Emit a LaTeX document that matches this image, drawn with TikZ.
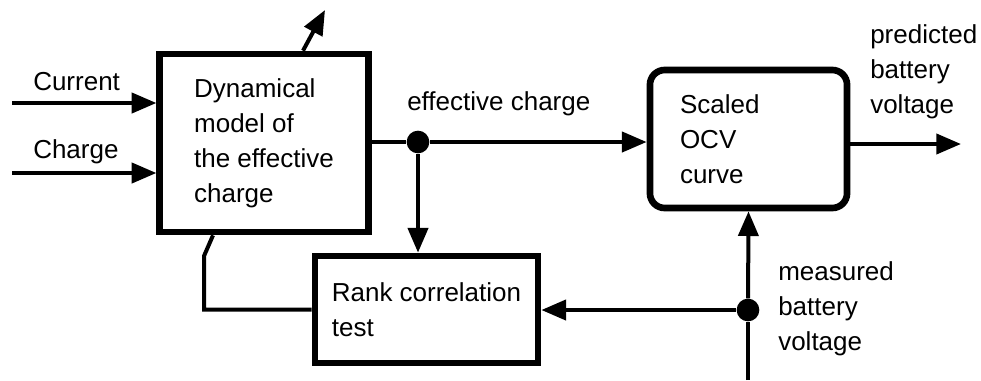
\documentclass[tikz,border=0pt]{standalone}
\usepackage{fontspec}
\setmainfont{Liberation Sans}
\usetikzlibrary{arrows.meta,calc}
\begin{document}
\begin{tikzpicture}[x=0.75pt,y=-0.75pt,
  txt/.style={font=\fontsize{19.5pt}{26.25pt}\selectfont, inner sep=0pt},
  blockbox/.style={draw, line width=5pt, align=left, inner sep=0pt,
    font=\fontsize{19.5pt}{26.25pt}\selectfont},
  conn/.style={line width=3pt},
  arr/.style={conn, -{Triangle[length=18.5pt,width=15pt]}},
  junction/.style={circle, fill, inner sep=0pt, minimum size=17pt}]
\useasboundingbox (0,0) rectangle (981,380);
% blocks
\node[blockbox, minimum width=156.4pt, minimum height=133.5pt] (dyn) at (264,143)
  {Dynamical\\model of\\the effective\\charge};
\node[blockbox, minimum width=167.3pt, minimum height=80.3pt] (rank) at (426.5,309.5)
  {Rank correlation\\test};
\node[blockbox, rounded corners=11pt, minimum width=147.8pt, minimum height=103.5pt,
  text width=102.75pt] (ocv) at (748.5,139) {Scaled\\OCV\\curve};
% labels
\node[txt, anchor=base west] (lcur) at (33,90) {Current};
\node[txt, anchor=base west] (lchg) at (33,158) {Charge};
\node[txt, anchor=base west] (leff) at (407,110) {effective charge};
\node[txt, anchor=base west] (p1) at (870,43) {predicted};
\node[txt, anchor=base west] (p2) at (870,78) {battery};
\node[txt, anchor=base west] (p3) at (870,113) {voltage};
\node[txt, anchor=base west] (m1) at (778,280) {measured};
\node[txt, anchor=base west] (m2) at (778,315) {battery};
\node[txt, anchor=base west] (m3) at (778,350) {voltage};
% coordinates
\coordinate (cin) at (12,103);
\coordinate (qin) at (12,173);
\coordinate (topout) at (325,10);
\coordinate (outend) at (961,144);
\coordinate (mbottom) at (748,380);
\coordinate (fb) at (204,256);
\node[junction] (jeff) at (418,142) {};
\node[junction] (jmeas) at (748,310) {};
% connectors
\draw[arr] (cin) -- (cin -| dyn.west);
\draw[arr] (qin) -- (qin -| dyn.west);
\draw[arr] ($(dyn.north)+(39,0)$) -- (topout);
\draw[conn] (dyn.east |- jeff) -- (jeff);
\draw[arr] (jeff) -- (ocv.west |- jeff);
\draw[arr] (jeff) -- (jeff |- rank.north);
\draw[arr] (ocv.east |- outend) -- (outend);
\draw[conn] (mbottom) -- (jmeas);
\draw[arr] (jmeas) -- (ocv.south);
\draw[arr] (jmeas) -- (jmeas -| rank.east);
\draw[conn] (rank.west) -| (fb) -- ($(dyn.south)+(-51,0)$);
\end{tikzpicture}
\end{document}
